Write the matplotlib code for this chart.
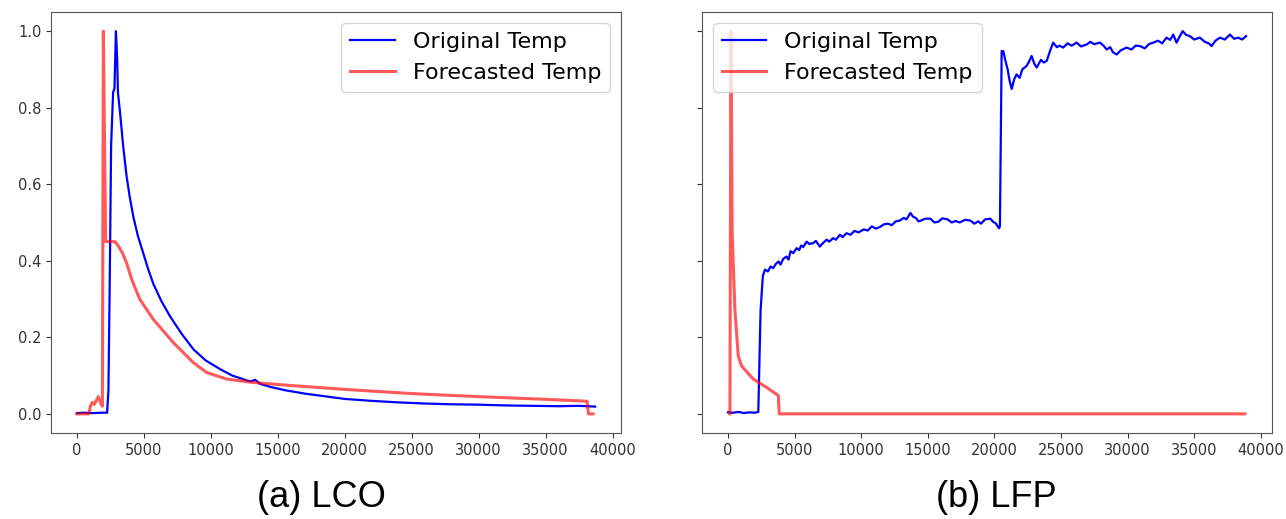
import matplotlib
matplotlib.use("Agg")
import matplotlib.pyplot as plt

# LCO data
lco_orig_x = [0, 600, 1200, 1800, 2250, 2350, 2450, 2550, 2700, 2800, 2910, 3000, 3060, 3210,
              3450, 3710, 3950, 4210, 4550, 4950, 5300, 5700, 6300, 6950, 7800, 8690, 9600,
              10680, 11600, 12300, 12700, 13000, 13300, 13700, 14500, 15500, 17000, 18500,
              20000, 22000, 24000, 26000, 28000, 30000, 32000, 34000, 36000, 37500, 38700]
lco_orig_y = [0.002, 0.003, 0.002, 0.003, 0.003, 0.06, 0.35, 0.70, 0.84, 0.85, 1.0, 0.93, 0.84, 0.79,
              0.70, 0.62, 0.565, 0.515, 0.465, 0.42, 0.38, 0.34, 0.295, 0.255, 0.21, 0.169, 0.14,
              0.117, 0.10, 0.092, 0.087, 0.085, 0.089, 0.078, 0.07, 0.062, 0.053, 0.046,
              0.039, 0.034, 0.03, 0.027, 0.025, 0.024, 0.022, 0.021, 0.02, 0.021, 0.019]

lco_fc_x = [0, 900, 1000, 1150, 1300, 1450, 1600, 1750, 1900, 1970, 2140, 2300, 2600, 2850,
            3060, 3400, 3710, 4100, 4700, 5700, 7200, 8690, 9690, 11180, 13170, 16000, 20000,
            25000, 30000, 35000, 38100, 38200, 38550]
lco_fc_y = [0.0, 0.0, 0.02, 0.03, 0.025, 0.035, 0.045, 0.03, 0.02, 1.0, 0.45, 0.45, 0.45, 0.45,
            0.44, 0.42, 0.394, 0.35, 0.299, 0.247, 0.186, 0.134, 0.108, 0.091, 0.082, 0.074, 0.064,
            0.053, 0.045, 0.038, 0.033, 0.0, 0.0]

# LFP data
lfp_orig_x = [0, 400, 800, 1200, 1600, 2000, 2280, 2450, 2620, 2780, 3000, 3200, 3400, 3600,
              3800, 3950, 4150, 4400, 4550, 4700, 4900, 5160, 5350, 5500, 5650, 5910, 6100,
              6400, 6600, 6900, 7100, 7410, 7600, 7900, 8100, 8410, 8600, 8910, 9200, 9500,
              9800, 10200, 10500, 10800, 11100, 11400, 11700, 12000, 12300, 12600, 12900,
              13200, 13400, 13700, 13900, 14100, 14300, 14500, 14800, 15200, 15500, 15800,
              16100, 16500, 16800, 17100, 17400, 17800, 18200, 18500, 18800, 19000, 19300,
              19700, 19900, 20100, 20350, 20420, 20550, 20670, 20850, 21000, 21150, 21300,
              21500, 21670, 21900, 22100, 22420, 22600, 22800, 23000, 23180, 23500, 23700,
              23930, 24200, 24420, 24700, 24900, 25170, 25500, 25800, 26180, 26500, 26930,
              27200, 27500, 27930, 28200, 28430, 28700, 28900, 29180, 29500, 29930, 30300,
              30600, 30930, 31300, 31600, 31930, 32300, 32600, 32930, 33200, 33430, 33680,
              33900, 34140, 34400, 34680, 35000, 35430, 35800, 36100, 36310, 36600, 36940,
              37300, 37690, 38000, 38310, 38600, 38900]
lfp_orig_y = [0.004, 0.003, 0.005, 0.002, 0.004, 0.003, 0.005, 0.27, 0.36, 0.377, 0.372, 0.385,
              0.381, 0.392, 0.398, 0.39, 0.405, 0.411, 0.403, 0.425, 0.42, 0.433, 0.428, 0.44,
              0.436, 0.45, 0.444, 0.446, 0.452, 0.437, 0.445, 0.455, 0.45, 0.459, 0.455, 0.468,
              0.462, 0.472, 0.468, 0.478, 0.474, 0.482, 0.479, 0.49, 0.484, 0.488, 0.495, 0.497,
              0.493, 0.503, 0.505, 0.512, 0.508, 0.525, 0.515, 0.512, 0.503, 0.505, 0.51, 0.51,
              0.5, 0.502, 0.511, 0.508, 0.5, 0.504, 0.5, 0.507, 0.505, 0.497, 0.503, 0.497,
              0.508, 0.51, 0.502, 0.498, 0.485, 0.49, 0.948, 0.948, 0.92, 0.9, 0.87, 0.849,
              0.875, 0.887, 0.878, 0.9, 0.909, 0.92, 0.935, 0.915, 0.905, 0.925, 0.918,
              0.922, 0.95, 0.97, 0.958, 0.962, 0.957, 0.968, 0.962, 0.97, 0.96, 0.965,
              0.972, 0.966, 0.97, 0.962, 0.952, 0.958, 0.945, 0.939, 0.95, 0.957, 0.952,
              0.962, 0.961, 0.955, 0.966, 0.97, 0.975, 0.968, 0.983, 0.977, 0.991, 0.97,
              0.985, 1.0, 0.99, 0.987, 0.978, 0.983, 0.972, 0.968, 0.961, 0.975, 0.983,
              0.978, 0.991, 0.98, 0.983, 0.978, 0.987]

lfp_fc_x = [150, 225, 320, 525, 775, 1025, 1900, 2900, 3780, 3850, 38800]
lfp_fc_y = [0.0, 1.0, 0.47, 0.27, 0.151, 0.125, 0.091, 0.069, 0.048, 0.0, 0.0]

fig = plt.figure(figsize=(12.86, 5.19), dpi=100)
ax1 = fig.add_axes([0.0397, 0.1657, 0.4432, 0.8112])
ax2 = fig.add_axes([0.5459, 0.1657, 0.4432, 0.8112], sharey=ax1)

for ax, ox, oy, fx, fy in [(ax1, lco_orig_x, lco_orig_y, lco_fc_x, lco_fc_y),
                           (ax2, lfp_orig_x, lfp_orig_y, lfp_fc_x, lfp_fc_y)]:
    ax.plot(ox, oy, color='blue', lw=1.6, label='Original Temp')
    ax.plot(fx, fy, color='red', lw=2.2, alpha=0.65, label='Forecasted Temp')
    ax.set_xticks(range(0, 40001, 5000))
    ax.tick_params(labelsize=10.5, colors='#333333')
    for s in ax.spines.values():
        s.set_color('#555555')

ax1.set_yticks([0.0, 0.2, 0.4, 0.6, 0.8, 1.0])
ax2.tick_params(labelleft=False)

ax1.legend(loc='upper right', fontsize=16)
ax2.legend(loc='upper left', fontsize=16)

fig.text(0.25, 0.042, '(a) LCO', ha='center', va='center', fontsize=26, family='Liberation Sans')
fig.text(0.775, 0.042, '(b) LFP', ha='center', va='center', fontsize=26, family='Liberation Sans')

fig.savefig('out.png', dpi=100)
